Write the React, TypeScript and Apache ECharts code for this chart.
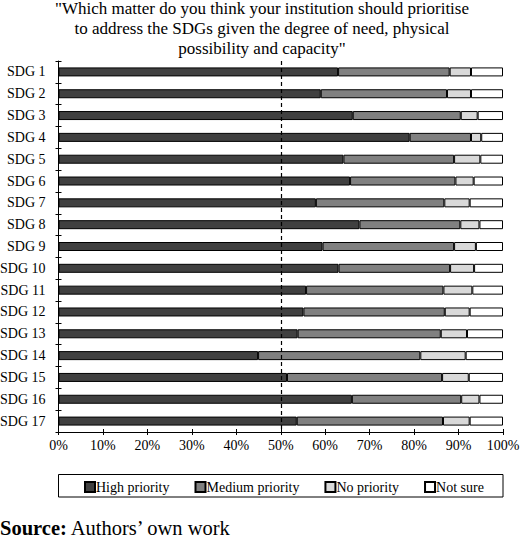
import React, { useEffect, useRef } from "react";
import * as echarts from "echarts";

const categories = [
  "SDG 1", "SDG 2", "SDG 3", "SDG 4", "SDG 5", "SDG 6", "SDG 7", "SDG 8", "SDG 9",
  "SDG 10", "SDG 11", "SDG 12", "SDG 13", "SDG 14", "SDG 15", "SDG 16", "SDG 17",
];
const highPriority = [62.9, 59.0, 66.2, 79.0, 64.1, 65.6, 57.9, 67.7, 59.4, 63.0, 55.7, 55.1, 53.8, 44.9, 51.4, 66.0, 53.6];
const mediumPriority = [25.1, 28.4, 24.3, 13.8, 24.9, 23.7, 28.9, 22.7, 29.6, 25.1, 30.9, 31.8, 32.2, 36.5, 34.9, 24.6, 32.9];
const noPriority = [4.8, 5.4, 3.8, 2.3, 5.9, 4.1, 5.7, 4.3, 4.9, 5.4, 6.5, 5.6, 5.9, 10.2, 6.0, 4.1, 6.0];
const notSure = [7.2, 7.2, 5.7, 4.9, 5.1, 6.6, 7.5, 5.3, 6.1, 6.5, 6.9, 7.5, 8.1, 8.4, 7.7, 5.3, 7.5];

const seriesNames = ["High priority", "Medium priority", "No priority", "Not sure"];
const seriesColors = ["#404040", "#808080", "#d9d9d9", "#ffffff"];

const FONT = "'Liberation Serif', 'Times New Roman', serif";

const App: React.FC = () => {
  const chartRef = useRef<HTMLDivElement>(null);

  useEffect(() => {
    if (!chartRef.current) return;
    const chart = echarts.init(chartRef.current, null, { renderer: "svg" });

    const values = [highPriority, mediumPriority, noPriority, notSure];

    const option = {
      animation: false,
      backgroundColor: "#ffffff",
      textStyle: { fontFamily: FONT, color: "#000" },
      grid: {
        left: 58.5,
        right: 17,
        top: 61,
        bottom: 107,
        containLabel: false,
        outerBoundsMode: "none",
      },
      legend: {
        left: 84,
        top: 480,
        padding: 0,
        itemWidth: 10,
        itemHeight: 10,
        itemGap: 25,
        icon: "rect",
        textStyle: { fontFamily: FONT, fontSize: 14, color: "#000", lineHeight: 14, padding: [0, 0, 0, -4] },
        data: seriesNames,
      },
      xAxis: [
        {
          type: "value",
          min: 0,
          max: 100,
          interval: 10,
          axisLine: { show: true, lineStyle: { color: "#000" } },
          axisTick: { show: true, length: 3, lineStyle: { color: "#000" } },
          axisLabel: { formatter: "{value}%", fontSize: 14, color: "#000", fontFamily: FONT, margin: 6 },
          splitLine: { show: false },
        },
        {
          type: "value",
          position: "bottom",
          min: 0,
          max: 100,
          interval: 10,
          axisLine: { show: false },
          axisTick: { show: true, inside: true, length: 3, lineStyle: { color: "#000" } },
          axisLabel: { show: false },
          splitLine: { show: false },
        },
      ],
      yAxis: [
        {
          type: "category",
          inverse: true,
          data: categories,
          axisLine: { show: true, lineStyle: { color: "#000" } },
          axisTick: { show: true, length: 3, lineStyle: { color: "#000" } },
          axisLabel: { fontSize: 14, color: "#000", fontFamily: FONT, margin: 13 },
        },
        {
          type: "category",
          inverse: true,
          position: "left",
          data: categories,
          axisLine: { show: false },
          axisTick: { show: true, inside: true, length: 3, lineStyle: { color: "#000" } },
          axisLabel: { show: false },
        },
      ],
      series: seriesNames.map((name, i) => ({
        name,
        type: "bar",
        stack: "total",
        barWidth: 9,
        itemStyle: { color: seriesColors[i], borderColor: "#000", borderWidth: 1 },
        data: values[i],
        markLine:
          i === 0
            ? {
                silent: true,
                symbol: "none",
                z: 10,
                label: { show: false },
                lineStyle: { color: "#000", type: [4, 3], width: 1.2 },
                data: [{ xAxis: 50 }],
              }
            : undefined,
      })),
      graphic: [
        {
          type: "text",
          x: 262,
          y: -2,
          style: {
            text:
              "\"Which matter do you think your institution should prioritise\nto address the SDGs given the degree of need, physical\npossibility and capacity\"",
            font: `17px ${FONT}`,
            fill: "#000",
            textAlign: "center",
            textVerticalAlign: "top",
            lineHeight: 20,
          },
        },
        {
          type: "rect",
          shape: { x: 58.5, y: 474.5, width: 444.5, height: 22.5 },
          style: { fill: "none", stroke: "#000", lineWidth: 1 },
        },
        {
          type: "text",
          x: 0,
          y: 518,
          style: {
            text: "{b|Source:}{r| Authors\u2019 own work}",
            font: `20.5px ${FONT}`,
            fill: "#000",
            textVerticalAlign: "top",
            lineHeight: 20,
            rich: {
              b: { fontWeight: "bold", fontSize: 20.5, fontFamily: FONT, lineHeight: 20 },
              r: { fontSize: 20.5, fontFamily: FONT, lineHeight: 20 },
            },
          },
        },
      ],
    };

    chart.setOption(option);

    return () => {
      chart.dispose();
    };
  }, []);

  return (
    <div
      ref={chartRef}
      style={{ position: "fixed", left: 0, top: 0, width: "520px", height: "539px" }}
    />
  );
};

export default App;
